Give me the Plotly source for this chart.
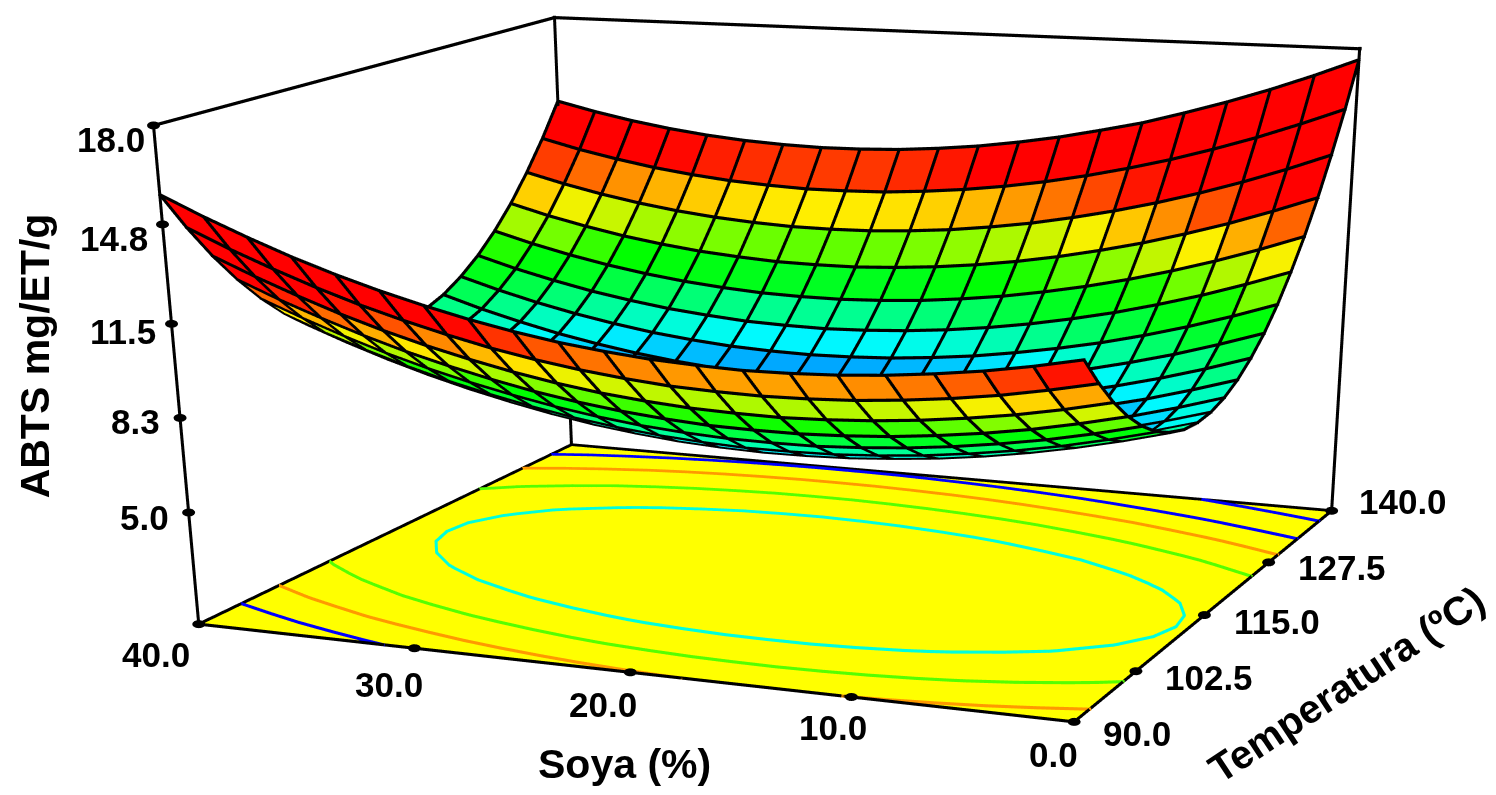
import numpy as np
import plotly.graph_objects as go

# ---------- data ----------
soya = [40,38,36,34,32,30,28,26,24,22,20,18,16,14,12,10,8,6,4,2,0]
temperatura = [90,92.5,95,97.5,100,102.5,105,107.5,110,112.5,115,117.5,120,122.5,125,127.5,130,132.5,135,137.5,140]
abts = [
[15.77,15.14,14.56,14.02,13.54,13.11,12.73,12.39,12.10,11.86,11.68,11.54,11.46,11.41,11.43,11.49,11.60,11.76,11.96,12.22,12.53],
[14.45,13.83,13.27,12.75,12.28,11.87,11.50,11.17,10.90,10.68,10.51,10.38,10.32,10.29,10.32,10.39,10.52,10.69,10.91,11.19,11.51],
[13.26,12.66,12.11,11.60,11.15,10.75,10.40,10.09,9.83,9.62,9.47,9.36,9.31,9.29,9.34,9.43,9.57,9.76,9.99,10.28,10.62],
[12.21,11.62,11.09,10.60,10.16,9.78,9.44,9.14,8.90,8.71,8.57,8.47,8.44,8.44,8.50,8.60,8.76,8.96,9.21,9.52,9.87],
[11.29,10.72,10.20,9.72,9.30,8.93,8.61,8.33,8.10,7.92,7.80,7.72,7.70,7.71,7.79,7.91,8.08,8.30,8.56,8.88,9.25],
[10.50,9.94,9.44,8.98,8.57,8.22,7.91,7.64,7.43,7.27,7.16,7.09,7.09,7.12,7.21,7.34,7.53,7.76,8.04,8.38,8.76],
[9.84,9.30,8.81,8.37,7.98,7.64,7.34,7.09,6.90,6.75,6.66,6.61,6.62,6.67,6.78,6.92,7.12,7.37,7.67,8.02,8.42],
[9.32,8.79,8.32,7.89,7.52,7.19,6.91,6.68,6.50,6.37,6.29,6.25,6.28,6.34,6.47,6.63,6.84,7.11,7.42,7.79,8.20],
[8.94,8.43,7.97,7.56,7.20,6.89,6.62,6.40,6.24,6.12,6.06,6.04,6.08,6.16,6.30,6.47,6.70,6.98,7.31,7.69,8.12],
[8.69,8.19,7.75,7.35,7.01,6.71,6.46,6.26,6.11,6.01,5.96,5.95,6.01,6.10,6.26,6.45,6.69,6.99,7.33,7.73,8.17],
[8.58,8.10,7.67,7.29,6.96,6.68,6.44,6.25,6.12,6.03,6.00,6.01,6.08,6.19,6.36,6.56,6.82,7.13,7.49,7.90,8.36],
[8.60,8.13,7.72,7.35,7.04,6.77,6.55,6.38,6.26,6.19,6.17,6.19,6.28,6.40,6.59,6.81,7.08,7.41,7.78,8.21,8.68],
[8.76,8.31,7.91,7.56,7.26,7.00,6.80,6.64,6.54,6.48,6.48,6.52,6.62,6.76,6.96,7.20,7.48,7.82,8.21,8.65,9.14],
[9.04,8.60,8.22,7.88,7.60,7.36,7.17,7.03,6.94,6.90,6.91,6.96,7.08,7.23,7.45,7.70,8.00,8.36,8.76,9.22,9.72],
[9.47,9.05,8.68,8.36,8.09,7.86,7.69,7.56,7.49,7.46,7.49,7.56,7.69,7.86,8.09,8.36,8.67,9.04,9.46,9.93,10.45],
[10.02,9.61,9.26,8.95,8.70,8.49,8.34,8.22,8.17,8.15,8.20,8.29,8.43,8.62,8.86,9.15,9.48,9.87,10.30,10.79,11.32],
[10.71,10.32,9.98,9.69,9.45,9.26,9.12,9.02,8.98,8.98,9.04,9.14,9.30,9.50,9.76,10.06,10.41,10.81,11.26,11.76,12.31],
[11.53,11.15,10.83,10.55,10.33,10.15,10.03,9.94,9.92,9.93,10.01,10.13,10.30,10.52,10.79,11.11,11.47,11.89,12.35,12.87,13.43],
[12.50,12.14,11.83,11.57,11.36,11.20,11.09,11.02,11.01,11.04,11.13,11.26,11.45,11.68,11.97,12.30,12.68,13.11,13.59,14.12,14.70],
[13.59,13.24,12.95,12.70,12.51,12.36,12.27,12.21,12.22,12.26,12.37,12.52,12.72,12.97,13.27,13.62,14.01,14.46,14.95,15.50,16.09],
[14.82,14.49,14.21,13.98,13.80,13.67,13.59,13.55,13.57,13.63,13.75,13.91,14.13,14.39,14.71,15.05,15.48,15.94,16.45,17.01,17.62],
]
z_floor = 1.0
z_top = 18.0
contour_levels = [8.0, 9.7, 11.5, 13.3, 15.85]
contour_colors = ['#00FFDD', '#55FF00', '#FF9900', '#0000FF', '#0000FF']
color_z = [6.0, 7.2, 7.85, 8.6, 9.5, 10.0, 10.55, 11.6, 13.3]
color_rgb = [(0,0,255),(0,168,255),(0,250,255),(0,255,144),(0,255,28),(0,255,0),(112,255,0),(255,240,0),(255,0,0)]
row_colour_shift = [1.3,1.2,1.2,1.1,1.0,0.95,0.8,0.5]
z_ticks = [5.0, 8.3, 11.5, 14.8, 18.0]
z_labels = ['5.0','8.3','11.5','14.8','18.0']
s_dots = [40, 29.4, 19.3, 9.45, 0]
s_labels = ['40.0','30.0','20.0','10.0','0.0']
t_dots = [90, 100.4, 113.0, 126.0, 140]
t_labels = ['90.0','102.5','115.0','127.5','140.0']

# ---------- camera ----------
W, H = 1496, 3000
LO = np.array([90.0,0.0,z_floor]); HI = np.array([140.0,40.0,z_top])
EYE = np.array([-7.3587,-3.2299,1.5673]); CEN = np.array([-1.4788,-0.5332,-2.0023])
UP = np.array([0.0113,-0.0133,1.0]); ASP = np.array([1.7694,1.9656,1.0])
PAD = 0.05
F = (H/2)/np.tan(np.pi/8)
fw = (CEN-EYE)/np.linalg.norm(CEN-EYE)
rt = np.cross(fw,UP); rt /= np.linalg.norm(rt)
upv = np.cross(rt,fw)

def cube(p): return ((np.asarray(p,float)-LO)/(HI-LO)-.5)*ASP
def data(c): return (np.asarray(c)/ASP+.5)*(HI-LO)+LO
def depth(c): return (c-EYE)@fw

def ribbon(a, b, px):
    """camera-facing quads for segments a->b (data coords)"""
    a, b = cube(a), cube(b)
    v = -(a+b)/2+EYE
    v /= np.linalg.norm(v,axis=1,keepdims=True)
    n = np.cross(b-a, v); n /= (np.linalg.norm(n,axis=1,keepdims=True)+1e-12)
    ha = (px/2*depth(a)/F)[:,None]; hb = (px/2*depth(b)/F)[:,None]
    ea = (b-a)/(np.linalg.norm(b-a,axis=1,keepdims=True)+1e-12)
    a2 = a-ea*ha; b2 = b+ea*hb
    lift = v*0.012
    pts = np.stack([a2-n*ha+lift,a2+n*ha+lift,b2+n*hb+lift,b2-n*hb+lift],1).reshape(-1,3)
    k = np.arange(len(a))*4
    return data(pts), np.c_[np.r_[k,k],np.r_[k+1,k+2],np.r_[k+2,k+3]]

def mesh(pts, tri, **kw):
    return go.Mesh3d(x=pts[:,0],y=pts[:,1],z=pts[:,2],i=tri[:,0],j=tri[:,1],k=tri[:,2],
        lighting=dict(ambient=1,diffuse=0,specular=0,roughness=1,fresnel=0),flatshading=True,hoverinfo='skip',showscale=False,**kw)

S = np.array(soya,float); T = np.array(temperatura,float); Z = np.array(abts,float)
ni, nj = Z.shape
TT, SS = np.meshgrid(T,S,indexing='ij')
V = np.c_[TT.ravel(),SS.ravel(),Z.ravel()]

def cmap(z):
    return [f"rgb({int(round(np.interp(v,color_z,[c[0] for c in color_rgb])))},{int(round(np.interp(v,color_z,[c[1] for c in color_rgb])))},{int(round(np.interp(v,color_z,[c[2] for c in color_rgb])))})" for v in z]

tris=[]; zc=[]
for i in range(ni-1):
    sh=row_colour_shift[i] if i<len(row_colour_shift) else 0
    for j in range(nj-1):
        a=i*nj+j; b=a+1; c=a+nj; d=c+1
        m=(Z[i,j]+Z[i,j+1]+Z[i+1,j]+Z[i+1,j+1])/4+sh
        tris+=[(a,b,d),(a,d,c)]; zc+=[m,m]
tris=np.array(tris)

fig=go.Figure()
# floor
fp=np.array([[T[0],S[0],z_floor],[T[0],S[-1],z_floor],[T[-1],S[-1],z_floor],[T[-1],S[0],z_floor]])
fig.add_trace(mesh(fp,np.array([[0,1,2],[0,2,3]]),color='#FFFF00'))
# surface
fig.add_trace(mesh(V,tris,facecolor=cmap(zc)))
# grid lines
A=[];B=[]
for i in range(ni):
    for j in range(nj-1):
        A.append((T[i],S[j],Z[i,j]));B.append((T[i],S[j+1],Z[i,j+1]))
for j in range(nj):
    for i in range(ni-1):
        A.append((T[i],S[j],Z[i,j]));B.append((T[i+1],S[j],Z[i+1,j]))
p,t=ribbon(np.array(A),np.array(B),3.0)
fig.add_trace(mesh(p,t,color='black'))
# floor contours (marching squares on the table)
def contour(level):
    A=[];B=[]
    for i in range(ni-1):
        for j in range(nj-1):
            c=[(T[i],S[j],Z[i,j]),(T[i],S[j+1],Z[i,j+1]),(T[i+1],S[j+1],Z[i+1,j+1]),(T[i+1],S[j],Z[i+1,j])]
            pts=[]
            for e in range(4):
                q,r=c[e],c[(e+1)%4]
                if (q[2]>=level)!=(r[2]>=level):
                    w=(level-q[2])/(r[2]-q[2])
                    pts.append((q[0]+w*(r[0]-q[0]),q[1]+w*(r[1]-q[1]),z_floor))
            if len(pts)==2: A.append(pts[0]);B.append(pts[1])
            elif len(pts)==4: A+= [pts[0],pts[2]];B+=[pts[1],pts[3]]
    return np.array(A),np.array(B)
for lv,col in zip(contour_levels,contour_colors):
    a,b=contour(lv)
    p,t=ribbon(a,b,3.0)
    fig.add_trace(mesh(p,t,color=col))
# box
t0,t1,s0,s1=90,140,40,0
box=[((t0,s0,z_floor),(t0,s1,z_floor)),((t0,s1,z_floor),(t1,s1,z_floor)),((t1,s1,z_floor),(t1,s0,z_floor)),((t1,s0,z_floor),(t0,s0,z_floor)),
     ((t0,s0,z_floor),(t0,s0,z_top)),((t1,s0,z_floor),(t1,s0,z_top)),((t1,s1,z_floor),(t1,s1,z_top)),
     ((t0,s0,z_top),(t1,s0,z_top)),((t1,s0,z_top),(t1,s1,z_top))]
p,t=ribbon(np.array([b[0] for b in box],float),np.array([b[1] for b in box],float),3.0)
fig.add_trace(mesh(p,t,color='black'))
# tick dots
dots=[(t0,s0,z) for z in z_ticks]+[(t0,s,z_floor) for s in s_dots]+[(t,s1,z_floor) for t in t_dots]
pp=[];tt=[]
for d in dots:
    c=cube(d)+(EYE-cube(d))/np.linalg.norm(EYE-cube(d))*0.02
    dp=depth(c)/F; base=len(pp); pp.append(c)
    for q in range(20):
        an=2*np.pi*q/20
        pp.append(c+rt*np.cos(an)*6.5*dp+upv*np.sin(an)*4*dp)
        tt.append((base,base+1+q,base+1+(q+1)%20))
fig.add_trace(mesh(data(np.array(pp)),np.array(tt),color='black'))

# labels
FONT=dict(family='Liberation Sans',size=35,color='black')
TFONT=dict(family='Liberation Sans',size=41,color='black')
TFONT2=dict(family='Liberation Sans',size=40,color='black')
def lab(pos,text,dx,dy,font=FONT,angle=0):
    return dict(x=pos[0],y=pos[1],z=pos[2],text=f'<b>{text}</b>',showarrow=False,xanchor='center',yanchor='middle',
                xshift=dx,yshift=dy,font=font,textangle=angle)
ann=[]
zoff=[(-44,-5),(-45,-4),(-49,-8),(-48,-14),(-43,-14)]
for z,l,o in zip(z_ticks,z_labels,zoff): ann.append(lab((t0,s0,z),l,*o))
soff=[(-43,-30),(-25,-36),(-27,-32),(-18,-31),(-21,-33)]
for s,l,o in zip(s_dots,s_labels,soff): ann.append(lab((t0,s,z_floor),l,*o))
toff=[(63,-12),(73,-6),(73,-6),(73,-5),(71,9)]
for tv,l,o in zip(t_dots,t_labels,toff): ann.append(lab((tv,s1,z_floor),l,*o))
ann.append(lab((t0,20,z_floor),'Soya (%)',9,-93,TFONT))
ann.append(lab((t0,s0,11.5),'ABTS mg/ET/g',-137,-32,TFONT,-90))
ann.append(lab((115,s1,z_floor),'Temperatura (ºC)',132,-77,TFONT2,-33.5))

def prange(i):
    d=(HI[i]-LO[i])*PAD
    return [LO[i]-d,HI[i]+d]
fig.update_layout(width=W,height=H,margin=dict(l=0,r=0,t=0,b=0),showlegend=False,paper_bgcolor='white',
    scene=dict(domain=dict(x=[0,1],y=[0,1]),aspectmode='manual',dragmode='orbit',
        aspectratio=dict(x=ASP[0]*(1+2*PAD),y=ASP[1]*(1+2*PAD),z=ASP[2]*(1+2*PAD)),bgcolor='white',
        camera=dict(eye=dict(x=EYE[0],y=EYE[1],z=EYE[2]),center=dict(x=CEN[0],y=CEN[1],z=CEN[2]),up=dict(x=UP[0],y=UP[1],z=UP[2]),projection=dict(type='perspective')),
        xaxis=dict(visible=False,range=prange(0)),yaxis=dict(visible=False,range=prange(1)),zaxis=dict(visible=False,range=prange(2)),
        annotations=ann))
fig.write_html("out.html",config=dict(displayModeBar=False,responsive=False),
   post_script="document.documentElement.style.overflow='hidden';document.documentElement.style.height='795px';document.body.style.margin='0';document.body.style.height='795px';document.body.style.overflow='hidden';")
